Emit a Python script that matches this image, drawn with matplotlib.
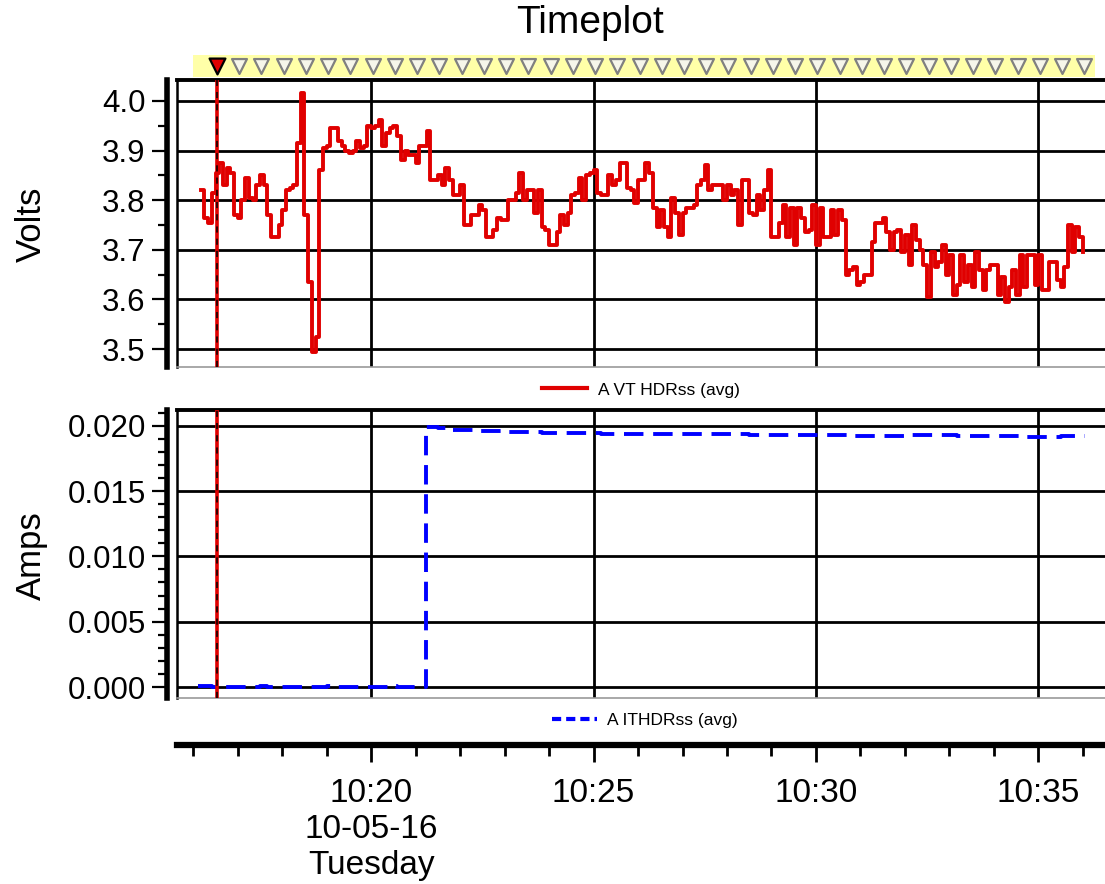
import matplotlib
matplotlib.use('Agg')
import matplotlib.pyplot as plt
import matplotlib.dates as mdates
import pandas as pd
from matplotlib.lines import Line2D
from matplotlib.ticker import MultipleLocator, FormatStrFormatter

plt.rcParams['font.family'] = ['Liberation Sans', 'DejaVu Sans']

# ---- data ----
volts_start = '2016-05-10 10:16:10'   # one reading every 5 s
volts = [
    3.82, 3.765, 3.755, 3.815, 3.855, 3.875, 3.83, 3.865, 3.855, 3.77,
    3.765, 3.80, 3.845, 3.805, 3.80, 3.83, 3.85, 3.83, 3.77, 3.725,
    3.725, 3.75, 3.78, 3.82, 3.825, 3.83, 3.915, 4.015, 3.77, 3.635,
    3.495, 3.525, 3.86, 3.905, 3.91, 3.945, 3.945, 3.92, 3.91, 3.90,
    3.895, 3.90, 3.92, 3.905, 3.91, 3.95, 3.945, 3.95, 3.962, 3.91,
    3.935, 3.945, 3.95, 3.93, 3.88, 3.90, 3.89, 3.89, 3.875, 3.91,
    3.91, 3.94, 3.84, 3.84, 3.85, 3.83, 3.865, 3.84, 3.81, 3.81,
    3.83, 3.75, 3.75, 3.77, 3.77, 3.79, 3.78, 3.725, 3.725, 3.74,
    3.765, 3.76, 3.76, 3.80, 3.80, 3.815, 3.855, 3.80, 3.82, 3.82,
    3.775, 3.82, 3.745, 3.74, 3.71, 3.71, 3.735, 3.77, 3.75, 3.775,
    3.81, 3.815, 3.845, 3.80, 3.85, 3.855, 3.86, 3.815, 3.81, 3.81,
    3.85, 3.83, 3.84, 3.875, 3.875, 3.825, 3.82, 3.795, 3.84, 3.84,
    3.875, 3.855, 3.785, 3.745, 3.78, 3.745, 3.725, 3.805, 3.775, 3.73,
    3.775, 3.785, 3.785, 3.79, 3.83, 3.84, 3.87, 3.82, 3.83, 3.83,
    3.83, 3.80, 3.83, 3.81, 3.82, 3.75, 3.84, 3.84, 3.775, 3.77,
    3.81, 3.78, 3.82, 3.86, 3.725, 3.725, 3.755, 3.79, 3.725, 3.785,
    3.71, 3.785, 3.765, 3.735, 3.74, 3.79, 3.71, 3.785, 3.725, 3.725,
    3.78, 3.73, 3.78, 3.76, 3.65, 3.66, 3.665, 3.63, 3.635, 3.65,
    3.65, 3.715, 3.755, 3.755, 3.765, 3.735, 3.70, 3.735, 3.74, 3.695,
    3.73, 3.67, 3.75, 3.72, 3.70, 3.67, 3.605, 3.695, 3.665, 3.675,
    3.71, 3.65, 3.69, 3.61, 3.63, 3.69, 3.635, 3.67, 3.625, 3.695,
    3.66, 3.62, 3.66, 3.67, 3.67, 3.61, 3.645, 3.595, 3.625, 3.66,
    3.61, 3.69, 3.625, 3.69, 3.69, 3.63, 3.69, 3.62, 3.62, 3.675,
    3.675, 3.64, 3.625, 3.665, 3.75, 3.695, 3.745, 3.725, 3.695,
]

amps_times = [
    '10:16:07', '10:16:25', '10:17:30', '10:17:40', '10:19:00', '10:19:10',
    '10:20:25', '10:20:35', '10:21:14', '10:21:30', '10:21:50', '10:22:20',
    '10:22:55', '10:23:50', '10:25:10', '10:26:30', '10:28:30', '10:29:20',
    '10:30:50', '10:32:00', '10:33:10', '10:34:40', '10:35:30', '10:36:03',
]
amps = [
    0.0001, 0.0, 0.0001, 0.0, 0.0001, 0.0,
    0.0001, 0.0, 0.0199, 0.0198, 0.0197, 0.0196,
    0.0195, 0.01945, 0.0194, 0.01935, 0.0193, 0.01925,
    0.0192, 0.01925, 0.0192, 0.01915, 0.0192, 0.0192,
]

day = '2016-05-10 '
cursor_time = '10:16:32'
marker_start = '10:16:32'     # event markers every 30 s
marker_count = 40
view_start, view_end = '10:15:38', '10:36:30'
band_start, band_end = '10:15:59', '10:36:16'
major_ticks = ['10:20', '10:25', '10:30', '10:35']
major_labels = ['10:20\n10-05-16\nTuesday', '10:25', '10:30', '10:35']

volt_times = pd.date_range(volts_start, periods=len(volts), freq='5s')
amp_times = pd.to_datetime([day + t for t in amps_times])
cursor = pd.Timestamp(day + cursor_time)
markers = pd.date_range(day + marker_start, periods=marker_count, freq='30s')
xmin, xmax = pd.Timestamp(day + view_start), pd.Timestamp(day + view_end)

red = '#E00000'
blue = '#0000FF'

fig = plt.figure(figsize=(11.05, 8.84), dpi=100)
L = 177 / 1105
W = 1 - L
ax1 = fig.add_axes([L, 1 - 367 / 884, W, 287 / 884])
ax2 = fig.add_axes([L, 1 - 698 / 884, W, 288 / 884])
ax3 = fig.add_axes([L, 1 - 745 / 884, W, 0.001])
band = fig.add_axes([L, 1 - 77 / 884, W, 22 / 884])

ax1.step(volt_times, volts, where='post', color=red, lw=2.8)
ax2.step(amp_times, amps, where='post', color=blue, lw=2.8, dashes=(5, 2.5))

for ax in (ax1, ax2):
    ax.axvline(cursor, color=red, lw=2.6, zorder=4)
    ax.axvline(cursor, color='black', lw=1.1, dashes=(4, 4), zorder=5)
    ax.set_xlim(xmin, xmax)
    ax.xaxis.set_major_locator(mdates.MinuteLocator(byminute=range(0, 60, 5)))
    ax.tick_params(axis='x', length=0, labelbottom=False)
    ax.grid(True, which='major', color='black', lw=2.0)
    ax.set_axisbelow(True)
    ax.spines['right'].set_visible(False)
    ax.spines['top'].set_linewidth(2.8)
    ax.spines['bottom'].set_color('#999999')
    ax.spines['bottom'].set_linewidth(1.2)
    ax.spines['left'].set_position(('outward', 7.5))
    ax.spines['left'].set_linewidth(4.0)
    ax.plot([0, 0], [0, 1], transform=ax.transAxes, color='black', lw=1.8, clip_on=False)
    ax.tick_params(axis='y', which='major', direction='out', length=11, width=1.6,
                   labelsize=22.5, pad=4)
    ax.tick_params(axis='y', which='minor', direction='out', length=6.5, width=1.6)

ax1.set_ylim(3.464, 4.042)
ax1.yaxis.set_major_locator(MultipleLocator(0.1))
ax1.yaxis.set_minor_locator(MultipleLocator(0.05))
ax1.yaxis.set_major_formatter(FormatStrFormatter('%.1f'))

ax2.set_ylim(-0.00084, 0.0212)
ax2.yaxis.set_major_locator(MultipleLocator(0.005))
ax2.yaxis.set_minor_locator(MultipleLocator(0.001))
ax2.yaxis.set_major_formatter(FormatStrFormatter('%.3f'))

fig.text(31 / 1105, 1 - 224 / 884, 'Volts', rotation=90, ha='center', va='center', fontsize=25)
fig.text(31 / 1105, 1 - 556 / 884, 'Amps', rotation=90, ha='center', va='center', fontsize=25)
fig.text(590 / 1105, 1 - 23 / 884, 'Timeplot', ha='center', va='center', fontsize=28)

legend_font = {'family': ['Liberation Sans Narrow', 'Liberation Sans'], 'size': 12.5}
ax1.legend([Line2D([], [], color=red, lw=3.0)], ['A VT HDRss (avg)'],
           loc='center', bbox_to_anchor=(641 / 1105, 1 - 390 / 884),
           bbox_transform=fig.transFigure, frameon=False, prop=legend_font,
           handlelength=2.6, handletextpad=0.6)
ax2.legend([Line2D([], [], color=blue, lw=3.0, dashes=(2.2, 1.2))], ['A ITHDRss (avg)'],
           loc='center', bbox_to_anchor=(645 / 1105, 1 - 720 / 884),
           bbox_transform=fig.transFigure, frameon=False, prop=legend_font,
           handlelength=2.6, handletextpad=0.6)

# separate time axis
ax3.set_xlim(xmin, xmax)
for s in ('top', 'left', 'right'):
    ax3.spines[s].set_visible(False)
ax3.spines['bottom'].set_linewidth(4.5)
ax3.set_yticks([])
ax3.patch.set_visible(False)
ax3.set_xticks(pd.to_datetime([day + t for t in major_ticks]), major_labels)
ax3.xaxis.set_minor_locator(mdates.MinuteLocator())
ax3.tick_params(axis='x', which='major', direction='out', length=12, width=2.0,
                labelsize=24, pad=12)
ax3.tick_params(axis='x', which='minor', direction='out', length=8, width=2.0)
for lbl in ax3.get_xticklabels():
    lbl.set_linespacing(1.2)

# event band on top
band.set_xlim(xmin, xmax)
band.set_ylim(0, 1)
band.axis('off')
band.axvspan(pd.Timestamp(day + band_start), pd.Timestamp(day + band_end), color='#FFFFA8', lw=0)
band.scatter(markers[1:], [0.5] * (len(markers) - 1), marker='v', s=115,
             facecolor='#F6F6EA', edgecolor='#808080', linewidths=1.6, zorder=3)
band.scatter(markers[:1], [0.5], marker='v', s=130, facecolor=red,
             edgecolor='black', linewidths=1.6, zorder=4)

fig.savefig('out.png', dpi=100)
